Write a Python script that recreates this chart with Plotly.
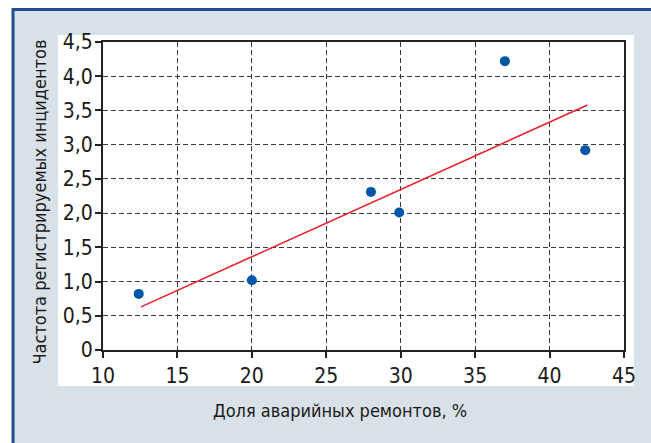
import plotly.graph_objects as go

# Observed points: share of emergency repairs (%) vs. incident frequency
repair_share = [12.4, 20.0, 28.0, 29.9, 37.0, 42.4]
incident_rate = [0.82, 1.02, 2.31, 2.01, 4.22, 2.92]

# Linear trend line endpoints
trend_x = [12.55, 42.55]
trend_y = [0.63, 3.58]

x_ticks = [10, 15, 20, 25, 30, 35, 40, 45]
y_ticks = [0, 0.5, 1.0, 1.5, 2.0, 2.5, 3.0, 3.5, 4.0, 4.5]
y_tick_text = ["0", "0,5", "1,0", "1,5", "2,0", "2,5", "3,0", "3,5", "4,0", "4,5"]

x_title = "Доля аварийных ремонтов, %"
y_title = "Частота регистрируемых инцидентов"

FONT = "DejaVu Sans Condensed, Liberation Sans Narrow, Arial Narrow, sans-serif"
PANEL = "#d9e1e8"
BORDER = "#1d4f8a"

fig = go.Figure()

fig.add_trace(go.Scatter(
    x=trend_x, y=trend_y, mode="lines",
    line=dict(color="#e8202a", width=1.6),
    hoverinfo="skip", showlegend=False,
))
fig.add_trace(go.Scatter(
    x=repair_share, y=incident_rate, mode="markers",
    marker=dict(color="#0056a6", size=10),
    showlegend=False,
))

axis_common = dict(
    showline=True, linecolor="#222222", linewidth=2, mirror=True,
    ticks="outside", ticklen=6, tickwidth=2, tickcolor="#222222",
    showgrid=True, gridcolor="#3a3a3a", gridwidth=1, griddash="5px,3px",
    zeroline=False,
    tickfont=dict(family=FONT, size=21, color="#1a1a1a"),
)

fig.update_xaxes(
    range=[10, 45], tickvals=x_ticks, ticktext=[str(v) for v in x_ticks],
    **axis_common,
)
fig.update_yaxes(
    range=[0, 4.5], tickvals=y_ticks, ticktext=y_tick_text,
    ticklabelstandoff=-2,
    **axis_common,
)

# Framed background panel and the white chart card
fig.add_shape(type="rect", xref="paper", yref="paper",
              x0=-0.1727, x1=1.2, y0=-0.4, y1=1.1055,
              fillcolor=PANEL, line=dict(color=BORDER, width=3), layer="below")
fig.add_shape(type="rect", xref="paper", yref="paper",
              x0=-0.0864, x1=1.0192, y0=-0.1169, y1=1.0227,
              fillcolor="white", line=dict(width=0), layer="below")

fig.add_annotation(text=x_title, xref="paper", yref="paper",
                   x=0.455, y=-0.195, showarrow=False,
                   xanchor="center", yanchor="middle",
                   font=dict(family=FONT, size=18, color="#1a1a1a"))
fig.add_annotation(text=y_title, xref="paper", yref="paper",
                   x=-0.122, y=0.48, showarrow=False, textangle=-90,
                   xanchor="center", yanchor="middle",
                   font=dict(family=FONT, size=18, color="#1a1a1a"))

fig.update_layout(
    width=651, height=443,
    margin=dict(l=103, r=27, t=42, b=93),
    paper_bgcolor="white", plot_bgcolor="white",
)

fig.write_html("out.html")
